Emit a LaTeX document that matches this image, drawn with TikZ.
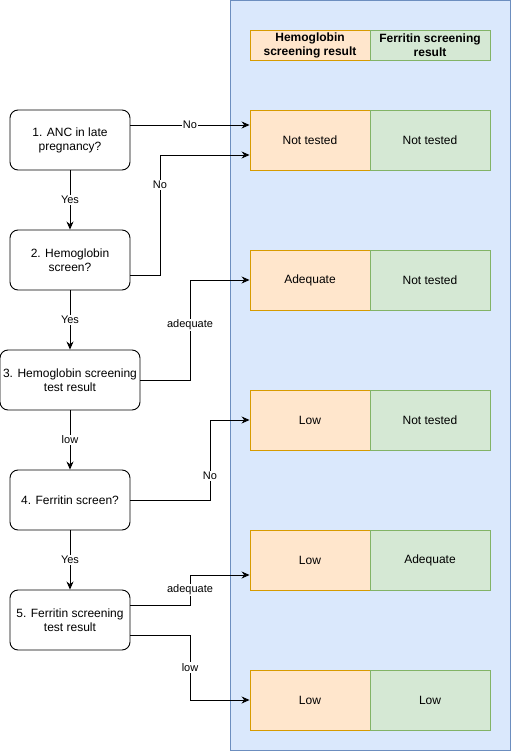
\documentclass[tikz,border=0pt]{standalone}
\usepackage{fontspec}
\setmainfont{Liberation Sans}
\usetikzlibrary{arrows.meta}
\definecolor{bluefill}{HTML}{DAE8FC}
\definecolor{bluedraw}{HTML}{6C8EBF}
\definecolor{orfill}{HTML}{FFE6CC}
\definecolor{ordraw}{HTML}{D79B00}
\definecolor{grfill}{HTML}{D5E8D4}
\definecolor{grdraw}{HTML}{82B366}
\begin{document}
\begin{tikzpicture}[x=1pt,y=-1pt,
  flowbox/.style={draw=black,line width=0.9pt,rounded corners=8pt,fill=white,align=center,font=\fontsize{12}{14}\selectfont,inner sep=0pt},
  hbcell/.style={draw=ordraw,fill=orfill,line width=0.9pt,minimum width=120pt,minimum height=60pt,inner sep=0pt,align=center,font=\fontsize{12}{14}\selectfont},
  frcell/.style={draw=grdraw,fill=grfill,line width=0.9pt,minimum width=120pt,minimum height=60pt,inner sep=0pt,align=center,font=\fontsize{12}{14}\selectfont},
  hdr/.style={minimum height=30pt,font=\bfseries\fontsize{12}{14}\selectfont},
  conn/.style={draw=black,line width=0.9pt,-{Stealth[length=8pt,width=7pt]}},
  lbl/.style={fill=white,inner sep=1pt,font=\fontsize{11}{13}\selectfont}
]
\useasboundingbox (0,0) rectangle (511,751);
\node[draw=bluedraw,fill=bluefill,line width=0.9pt,minimum width=279.5pt,minimum height=749.5pt,inner sep=0pt] (bg) at (370.25,375.25) {};

% header
\node[hbcell,hdr] (h1) at (310,45) {Hemoglobin\\screening result};
\node[frcell,hdr] (h2) at (430,45) {Ferritin screening\\result};

% result rows
\node[hbcell] (r1a) at (310,140) {Not tested};
\node[frcell] (r1b) at (430,140) {Not tested};
\node[hbcell] (r2a) at (310,280) {Adequate};
\node[frcell] (r2b) at (430,280) {Not tested};
\node[hbcell] (r3a) at (310,420) {Low};
\node[frcell] (r3b) at (430,420) {Not tested};
\node[hbcell] (r4a) at (310,560) {Low};
\node[frcell] (r4b) at (430,560) {Adequate};
\node[hbcell] (r5a) at (310,700) {Low};
\node[frcell] (r5b) at (430,700) {Low};

% flow boxes
\node[flowbox,minimum width=120pt,minimum height=60pt] (b1) at (70,140) {1. ANC in late\\pregnancy?};
\node[flowbox,minimum width=120pt,minimum height=60pt] (b2) at (70,260) {2. Hemoglobin\\screen?};
\node[flowbox,minimum width=140pt,minimum height=60pt] (b3) at (70,380) {3. Hemoglobin screening\\test result};
\node[flowbox,minimum width=120pt,minimum height=60pt] (b4) at (70,500) {4. Ferritin screen?};
\node[flowbox,minimum width=120pt,minimum height=60pt] (b5) at (70,620) {5. Ferritin screening\\test result};

% vertical connectors
\draw[conn] (b1.south) -- node[lbl]{Yes} (b2.north);
\draw[conn] (b2.south) -- node[lbl]{Yes} (b3.north);
\draw[conn] (b3.south) -- node[lbl]{low} (b4.north);
\draw[conn] (b4.south) -- node[lbl]{Yes} (b5.north);

% horizontal connectors
\draw[conn] (b1.east |- 0,125) -- node[lbl,pos=0.5]{No} (r1a.west |- 0,125);
\draw[conn] (b2.east |- 0,275) -- (160,275) -- node[lbl,pos=0.75]{No} (160,155) -- (r1a.west |- 0,155);
\draw[conn] (b3.east) -- (190,380) -- node[lbl,pos=0.55]{adequate} (190,280) -- (r2a.west);
\draw[conn] (b4.east) -- (210,500) -- node[lbl,pos=0.3]{No} (210,420) -- (r3a.west);
\draw[conn] (b5.east |- 0,605) -- (190,605) -- node[lbl,pos=0.5]{adequate} (190,575) -- (r4a.west |- 0,575);
\draw[conn] (b5.east |- 0,635) -- (190,635) -- node[lbl,pos=0.5]{low} (190,700) -- (r5a.west);
\end{tikzpicture}
\end{document}
